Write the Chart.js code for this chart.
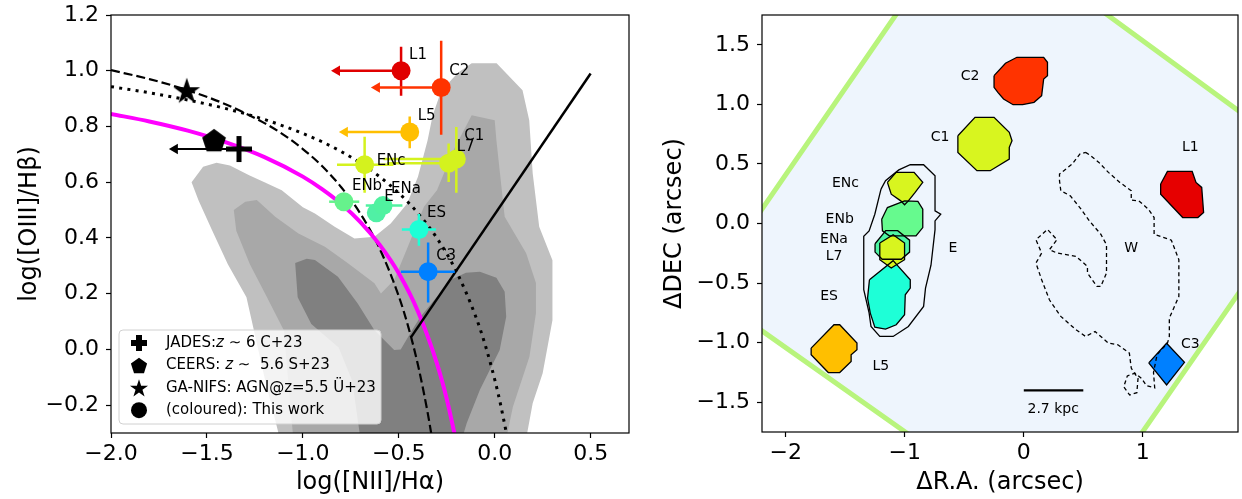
<!DOCTYPE html>
<html lang="en">
<head>
<meta charset="UTF-8">
<title>BPT diagram and region map</title>
<script src="https://cdn.jsdelivr.net/npm/chart.js"></script>
<style>
  html, body { margin: 0; padding: 0; background: #fff; }
  #wrap { position: relative; width: 1242px; height: 499px; }
  canvas { position: absolute; top: 0; }
  #bpt { left: 0; }
  #map { left: 640px; }
</style>
</head>
<body>
<div id="wrap">
  <canvas id="bpt" width="640" height="499"></canvas>
  <canvas id="map" width="602" height="499"></canvas>
</div>
<script>
// ---------- BPT panel: measured regions ----------
const regionNames   = ['L1', 'C2', 'L5', 'ENc', 'C1', 'L7', 'ENb', 'E', 'ENa', 'ES', 'C3'];
const regionColours = ['#e00000', '#ff3300', '#ffbf00', '#d4f21e', '#d4f21e', '#d4f21e',
                       '#66f28c', '#50f0a5', '#50f2a0', '#1effd6', '#0080ff'];
const logNII   = [-0.488, -0.279, -0.443, -0.678, -0.200, -0.240, -0.786, -0.617, -0.582, -0.395, -0.347];
const logOIII  = [ 1.000,  0.940,  0.780,  0.663,  0.683,  0.668,  0.530,  0.490,  0.516,  0.430,  0.279];
const niiLo    = [null, null, null, -0.822, -0.580, -0.560, -0.863, null, -0.672, -0.484, -0.489];
const niiHi    = [null, null, null, -0.528, -0.156, -0.210, -0.706, null, -0.481, -0.306, -0.208];
const niiLimit = [-0.822, -0.614, -0.781, null, null, null, null, null, null, null, null];
const oiiiLo   = [0.910, 0.770, 0.722, 0.562, 0.562, 0.601, null, null, null, 0.372, 0.168];
const oiiiHi   = [1.086, 1.108, 0.836, 0.763, 0.798, 0.739, null, null, null, 0.486, 0.384];

// literature points
const jadesX = [-1.333], jadesY = [0.719], jadesLimit = [-1.667];
const ceersX = [-1.463], ceersY = [0.751];
const ganifsX = [-1.605], ganifsY = [0.930];

// demarcation curves
const kauffmannX = [-2.0, -1.8, -1.6, -1.4, -1.2, -1.1, -1.0, -0.9, -0.8, -0.7, -0.6, -0.5, -0.45, -0.4, -0.35, -0.33];
const kauffmannY = [1.002, 0.970, 0.930, 0.879, 0.812, 0.770, 0.719, 0.658, 0.582, 0.487, 0.362, 0.191, 0.080, -0.056, -0.225, -0.305];
const kewleyX = [-2.0, -1.8, -1.6, -1.4, -1.2, -1.0, -0.9, -0.8, -0.7, -0.6, -0.5, -0.4, -0.3, -0.2, -0.1, -0.05, 0.0, 0.03, 0.06, 0.07];
const kewleyY = [0.943, 0.921, 0.895, 0.864, 0.825, 0.775, 0.745, 0.710, 0.669, 0.620, 0.561, 0.489, 0.398, 0.280, 0.120, 0.017, -0.108, -0.196, -0.298, -0.335];
const highzX = [-2.0, -1.8, -1.6, -1.4, -1.2, -1.0, -0.9, -0.8, -0.7, -0.6, -0.5, -0.4, -0.3, -0.25, -0.2];
const highzY = [0.845, 0.818, 0.785, 0.743, 0.690, 0.620, 0.575, 0.522, 0.457, 0.376, 0.273, 0.136, -0.053, -0.178, -0.332];
const seyfertX = [-0.435, 0.50];
const seyfertY = [0.045, 0.99];

// SDSS density contours (outer, middle, inner)
const contourOuter = [[-1.58, 0.60], [-1.52, 0.655], [-1.45, 0.67], [-1.38, 0.66], [-1.28, 0.625], [-1.20, 0.60],
  [-1.11, 0.571], [-1.00, 0.51], [-0.937, 0.488], [-0.834, 0.44], [-0.731, 0.398], [-0.627, 0.404], [-0.542, 0.452],
  [-0.456, 0.524], [-0.40, 0.62], [-0.35, 0.75], [-0.324, 0.838], [-0.279, 0.928], [-0.19, 0.994], [-0.12, 1.027],
  [0.01, 1.027], [0.145, 0.93], [0.18, 0.822], [0.198, 0.632], [0.232, 0.44], [0.301, 0.32], [0.301, 0.105],
  [0.25, -0.086], [0.198, -0.193], [0.164, -0.32], [-1.12, -0.32], [-1.20, -0.10], [-1.294, 0.187], [-1.391, 0.306],
  [-1.472, 0.426], [-1.543, 0.533]];
const contourMiddle = [[-1.36, 0.50], [-1.30, 0.53], [-1.24, 0.536], [-1.144, 0.476], [-1.023, 0.416], [-0.885, 0.368],
  [-0.765, 0.309], [-0.627, 0.237], [-0.593, 0.201], [-0.524, 0.249], [-0.439, 0.392], [-0.369, 0.512], [-0.301, 0.571],
  [-0.215, 0.715], [-0.12, 0.84], [0.0, 0.822], [0.009, 0.75], [0.052, 0.476], [0.164, 0.345], [0.215, 0.238],
  [0.215, 0.13], [0.181, -0.026], [0.095, -0.206], [0.06, -0.32], [-1.05, -0.32], [-1.098, 0.067], [-1.187, 0.187],
  [-1.276, 0.306], [-1.347, 0.426]];
const contourInner = [[-1.04, 0.31], [-0.98, 0.325], [-0.937, 0.321], [-0.817, 0.261], [-0.714, 0.165], [-0.627, 0.069],
  [-0.524, -0.002], [-0.49, 0.0], [-0.43, 0.07], [-0.387, 0.117], [-0.30, 0.19], [-0.232, 0.249], [-0.15, 0.275],
  [-0.077, 0.279], [0.009, 0.257], [0.052, 0.207], [0.06, 0.117], [0.026, -0.002], [-0.077, -0.145], [-0.146, -0.265],
  [-0.17, -0.32], [-0.70, -0.32], [-0.742, -0.113], [-0.813, 0.007], [-0.956, 0.091], [-1.027, 0.187]];

const bptXTicks = [-2.0, -1.5, -1.0, -0.5, 0.0, 0.5];
const bptXTickLabels = ['\u22122.0', '\u22121.5', '\u22121.0', '\u22120.5', '0.0', '0.5'];
const bptYTicks = [-0.2, 0.0, 0.2, 0.4, 0.6, 0.8, 1.0, 1.2];
const bptYTickLabels = ['\u22120.2', '0.0', '0.2', '0.4', '0.6', '0.8', '1.0', '1.2'];

// ---------- map panel ----------
const fieldOfView = [[-0.48, 2.614], [2.511, 0.431], [0.342, -2.694], [-2.674, -0.567]];
const shapeC2 = [[-0.25, 1.241], [-0.154, 1.345], [-0.058, 1.395], [0.167, 1.395], [0.199, 1.353], [0.199, 1.241],
  [0.167, 1.213], [0.15, 1.073], [0.086, 1.017], [-0.01, 0.997], [-0.09, 0.997], [-0.17, 1.045], [-0.218, 1.101], [-0.25, 1.143]];
const shapeC1 = [[-0.554, 0.737], [-0.41, 0.891], [-0.25, 0.891], [-0.122, 0.765], [-0.099, 0.695], [-0.122, 0.639],
  [-0.122, 0.541], [-0.282, 0.443], [-0.394, 0.443], [-0.554, 0.597]];
const shapeL1 = [[1.15, 0.331], [1.207, 0.437], [1.415, 0.437], [1.447, 0.345], [1.495, 0.303], [1.511, 0.092],
  [1.463, 0.05], [1.335, 0.05], [1.15, 0.246]];
const shapeENc = [[-1.146, 0.345], [-1.073, 0.429], [-0.922, 0.429], [-0.849, 0.345], [-0.913, 0.261], [-0.97, 0.19],
  [-1.002, 0.157], [-1.034, 0.19], [-1.114, 0.246]];
const shapeENb = [[-1.194, 0.036], [-1.146, 0.134], [-1.002, 0.19], [-0.89, 0.185], [-0.849, 0.12], [-0.849, -0.034],
  [-0.906, -0.104], [-1.13, -0.104], [-1.188, -0.062]];
const shapeENa = [[-1.25, -0.17], [-1.16, -0.06], [-1.06, -0.06], [-0.96, -0.14], [-0.96, -0.24], [-1.03, -0.30],
  [-1.19, -0.30], [-1.25, -0.24]];
const shapeL7 = [[-1.21, -0.164], [-1.098, -0.094], [-1.002, -0.164], [-1.002, -0.304], [-1.114, -0.374], [-1.21, -0.304]];
const shapeES = [[-1.297, -0.472], [-1.098, -0.312], [-0.954, -0.472], [-0.954, -0.542], [-0.996, -0.598], [-1.002, -0.766],
  [-1.072, -0.85], [-1.162, -0.887], [-1.252, -0.87], [-1.29, -0.752], [-1.313, -0.626]];
const shapeL5 = [[-1.787, -1.046], [-1.595, -0.85], [-1.547, -0.85], [-1.402, -1.004], [-1.402, -1.06], [-1.451, -1.102],
  [-1.451, -1.158], [-1.547, -1.251], [-1.643, -1.251], [-1.787, -1.102]];
const shapeC3 = [[1.05, -1.17], [1.2, -1.005], [1.35, -1.165], [1.2, -1.355]];
const shapeE = [[-1.2, 0.289], [-1.162, 0.359], [-1.05, 0.45], [-0.954, 0.493], [-0.842, 0.493], [-0.746, 0.401],
  [-0.746, 0.106], [-0.698, 0.078], [-0.746, 0.022], [-0.746, -0.052], [-0.78, -0.35], [-0.826, -0.542], [-0.842, -0.696],
  [-0.97, -0.864], [-1.098, -0.948], [-1.21, -0.948], [-1.284, -0.864], [-1.3, -0.75], [-1.345, -0.556], [-1.345, -0.108],
  [-1.3, -0.062], [-1.252, 0.078]];
const shapeW = [[0.519, 0.597], [0.551, 0.577], [0.631, 0.513], [0.711, 0.429], [0.807, 0.345], [0.903, 0.275],
  [0.903, 0.196], [0.967, 0.19], [1.047, 0.12], [1.095, 0.05], [1.095, -0.09], [1.24, -0.14], [1.303, -0.304],
  [1.303, -0.612], [1.223, -0.794], [1.223, -0.948], [1.207, -1.004], [1.12, -1.1], [1.09, -1.25], [1.1, -1.38],
  [1.03, -1.36], [0.99, -1.3], [0.935, -1.256], [0.87, -1.28], [0.84, -1.37], [0.89, -1.44], [0.95, -1.42], [0.96, -1.3],
  [0.903, -1.214], [0.887, -1.088], [0.791, -1.018], [0.711, -1.004], [0.599, -0.906], [0.519, -0.948], [0.439, -0.892],
  [0.311, -0.78], [0.215, -0.64], [0.15, -0.472], [0.102, -0.332], [0.15, -0.248], [0.102, -0.136], [0.199, -0.05],
  [0.279, -0.136], [0.215, -0.22], [0.279, -0.248], [0.439, -0.276], [0.535, -0.36], [0.535, -0.416], [0.615, -0.528],
  [0.647, -0.528], [0.695, -0.416], [0.695, -0.178], [0.647, -0.09], [0.551, 0.022], [0.471, 0.134], [0.391, 0.232],
  [0.311, 0.275], [0.3, 0.359], [0.3, 0.415], [0.407, 0.499], [0.471, 0.583]];
const mapShapes  = [shapeC2, shapeC1, shapeL1, shapeENc, shapeENb, shapeENa, shapeES, shapeL7, shapeL5, shapeC3];
const mapColours = ['#ff3300', '#d8f51f', '#e60000', '#d8f51f', '#66fa8e', '#4ef5a5', '#1effd7', '#d8f51f', '#ffbf00', '#0080ff'];
const scaleBarX = [0.0, 0.5], scaleBarY = [-1.4, -1.4];

const mapLabelText = ['C2', 'C1', 'L1', 'ENc', 'ENb', 'ENa', 'L7', 'E', 'ES', 'L5', 'W', 'C3', '2.7 kpc'];
const mapLabelX = [-0.451, -0.704, 1.399, -1.499, -1.547, -1.595, -1.595, -0.596, -1.636, -1.201, 0.903, 1.399, 0.247];
const mapLabelY = [1.232, 0.723, 0.639, 0.336, 0.031, -0.136, -0.276, -0.206, -0.612, -1.200, -0.206, -1.018, -1.564];

const mapXTicks = [-2, -1, 0, 1];
const mapXTickLabels = ['\u22122', '\u22121', '0', '1'];
const mapYTicks = [-1.5, -1.0, -0.5, 0.0, 0.5, 1.0, 1.5];
const mapYTickLabels = ['\u22121.5', '\u22121.0', '\u22120.5', '0.0', '0.5', '1.0', '1.5'];

// ---------- helpers ----------
const FONT = "'DejaVu Sans', sans-serif";
const pts = (xs, ys) => xs.map((x, i) => ({x, y: ys[i]}));
const pairs = arr => arr.map(([x, y]) => ({x, y}));
const closed = arr => pairs(arr.concat([arr[0]]));

function markerImage(size, paint) {
  const c = document.createElement('canvas');
  c.width = c.height = size;
  const g = c.getContext('2d');
  g.translate(size / 2, size / 2);
  g.fillStyle = '#000';
  paint(g);
  return c;
}
function starPath(g, R) {
  g.beginPath();
  for (let k = 0; k < 10; k++) {
    const r = k % 2 ? R * 0.382 : R;
    const a = -Math.PI / 2 + k * Math.PI / 5;
    g.lineTo(r * Math.cos(a), r * Math.sin(a) + R * 0.1);
  }
  g.closePath(); g.fill();
}
function pentagonPath(g, R) {
  g.beginPath();
  for (let k = 0; k < 5; k++) {
    const a = -Math.PI / 2 + k * 2 * Math.PI / 5;
    g.lineTo(R * Math.cos(a), R * Math.sin(a) + R * 0.1);
  }
  g.closePath(); g.fill();
}
function plusPath(g, arm, w) {
  g.fillRect(-arm, -w / 2, 2 * arm, w);
  g.fillRect(-w / 2, -arm, w, 2 * arm);
}
const starImg = markerImage(32, g => starPath(g, 14));
const pentagonImg = markerImage(30, g => pentagonPath(g, 12.5));
const plusImg = markerImage(30, g => plusPath(g, 13, 5));

function axis(min, max, ticks, labels, title, size, titlePad, tickPad) {
  return {
    type: 'linear', min, max,
    afterBuildTicks: s => { s.ticks = ticks.map(v => ({value: v})); },
    afterFit: s => {
      if (s.isHorizontal()) s.height = size; else s.width = size;
      // the plot box is placed by layout.padding alone
      s.paddingTop = s.paddingBottom = s.paddingLeft = s.paddingRight = 0;
    },
    ticks: {
      callback: v => labels[ticks.indexOf(v)],
      font: {family: FONT, size: 22}, color: '#000', padding: tickPad,
      autoSkip: false, maxRotation: 0
    },
    grid: {drawOnChartArea: false, drawTicks: true, tickLength: 5, tickWidth: 1.2, tickColor: '#000'},
    border: {display: false},
    title: {display: true, text: title, font: {family: FONT, size: 24}, color: '#000', padding: titlePad}
  };
}

// fills closed shapes (datasets carrying areaColor) underneath all datasets
const areaFill = {
  id: 'areaFill',
  beforeDatasetsDraw(chart) {
    const {ctx, chartArea: a} = chart;
    ctx.save();
    ctx.beginPath();
    ctx.rect(a.left, a.top, a.right - a.left, a.bottom - a.top);
    ctx.clip();
    chart.data.datasets.forEach((ds, i) => {
      if (!ds.areaColor) return;
      const el = chart.getDatasetMeta(i).data;
      ctx.beginPath();
      el.forEach((p, j) => j ? ctx.lineTo(p.x, p.y) : ctx.moveTo(p.x, p.y));
      ctx.closePath();
      ctx.fillStyle = ds.areaColor;
      ctx.fill();
    });
    ctx.restore();
  }
};

const frame = {
  id: 'frame',
  afterDatasetsDraw(chart) {
    const {ctx, chartArea: a} = chart;
    ctx.save();
    ctx.strokeStyle = '#000';
    ctx.lineWidth = 1.2;
    ctx.strokeRect(a.left, a.top, a.right - a.left, a.bottom - a.top);
    ctx.restore();
  }
};

function stackOrder(sets) {
  sets.forEach((d, i) => { d.order = sets.length - i; });
  return sets;
}

// ---------- BPT chart ----------
const bptSets = [];
[[contourOuter, '#c0c0c0'], [contourMiddle, '#a8a8a8'], [contourInner, '#808080']].forEach(([shape, c]) => {
  bptSets.push({data: pairs(shape), areaColor: c, showLine: false, pointRadius: 0});
});
bptSets.push({data: pts(kauffmannX, kauffmannY), showLine: true, borderColor: '#000', borderWidth: 2.2,
  borderDash: [9, 4], pointRadius: 0, cubicInterpolationMode: 'monotone'});
bptSets.push({data: pts(kewleyX, kewleyY), showLine: true, borderColor: '#000', borderWidth: 3,
  borderDash: [3, 5.3], pointRadius: 0, cubicInterpolationMode: 'monotone'});
bptSets.push({data: pts(highzX, highzY), showLine: true, borderColor: '#ff00ff', borderWidth: 4,
  pointRadius: 0, cubicInterpolationMode: 'monotone'});
bptSets.push({data: pts(seyfertX, seyfertY), showLine: true, borderColor: '#000', borderWidth: 2.5, pointRadius: 0});

// JADES upper limit arrow
bptSets.push({data: [{x: jadesX[0], y: jadesY[0]}, {x: jadesLimit[0], y: jadesY[0]}], showLine: true,
  borderColor: '#000', borderWidth: 2, pointRadius: 0});
bptSets.push({data: [{x: jadesLimit[0], y: jadesY[0]}], pointStyle: 'triangle', pointRotation: -90,
  pointRadius: 6, pointBackgroundColor: '#000', pointBorderWidth: 0});

regionNames.forEach((name, i) => {
  const seg = [];
  const c = regionColours[i];
  if (niiLo[i] !== null) seg.push({x: niiLo[i], y: logOIII[i]}, {x: niiHi[i], y: logOIII[i]}, {x: null, y: null});
  if (oiiiLo[i] !== null) seg.push({x: logNII[i], y: oiiiLo[i]}, {x: logNII[i], y: oiiiHi[i]}, {x: null, y: null});
  if (niiLimit[i] !== null) seg.push({x: logNII[i], y: logOIII[i]}, {x: niiLimit[i], y: logOIII[i]});
  bptSets.push({data: seg, showLine: true, spanGaps: false, borderColor: c, borderWidth: 2.5, pointRadius: 0});
  if (niiLimit[i] !== null) {
    bptSets.push({data: [{x: niiLimit[i], y: logOIII[i]}], pointStyle: 'triangle', pointRotation: -90,
      pointRadius: 6, pointBackgroundColor: c, pointBorderWidth: 0});
  }
});

bptSets.push({data: pts(ganifsX, ganifsY), pointStyle: starImg, pointRadius: 10});
bptSets.push({data: pts(ceersX, ceersY), pointStyle: pentagonImg, pointRadius: 10});
bptSets.push({data: pts(jadesX, jadesY), pointStyle: plusImg, pointRadius: 10});
bptSets.push({data: pts(logNII, logOIII), pointRadius: 9.5, pointBackgroundColor: regionColours, pointBorderWidth: 0});

const labelOffset = {ENc: [12, -4], C1: [8, -23]};
const bptLabels = {
  id: 'bptLabels',
  afterDatasetsDraw(chart) {
    const {ctx, scales: {x, y}} = chart;
    ctx.save();
    ctx.font = `15px ${FONT}`;
    ctx.fillStyle = '#000';
    ctx.textAlign = 'left';
    ctx.textBaseline = 'middle';
    regionNames.forEach((n, i) => {
      const off = labelOffset[n] || [8, -16];
      ctx.fillText(n, x.getPixelForValue(logNII[i]) + off[0], y.getPixelForValue(logOIII[i]) + off[1]);
    });
    ctx.restore();
  }
};

const legendRows = [
  {mark: 'plus', parts: [['JADES:', false], ['z', true], [' \u223C 6 C+23', false]]},
  {mark: 'pentagon', parts: [['CEERS: ', false], ['z', true], [' \u223C  5.6 S+23', false]]},
  {mark: 'star', parts: [['GA-NIFS: AGN@z=5.5 \u00DC+23', false]]},
  {mark: 'circle', parts: [['(coloured): This work', false]]}
];
const bptLegend = {
  id: 'bptLegend',
  afterDraw(chart) {
    const ctx = chart.ctx;
    const bx = 119, by = 330, bw = 262, bh = 94;
    ctx.save();
    ctx.beginPath();
    ctx.roundRect(bx, by, bw, bh, 4);
    ctx.fillStyle = 'rgba(255,255,255,0.8)';
    ctx.fill();
    ctx.strokeStyle = '#d0d0d0';
    ctx.lineWidth = 1;
    ctx.stroke();
    ctx.textBaseline = 'middle';
    ctx.fillStyle = '#000';
    legendRows.forEach((row, k) => {
      const cy = 343 + k * 22.4;
      ctx.save();
      ctx.translate(139, cy);
      if (row.mark === 'plus') plusPath(ctx, 8, 6);
      if (row.mark === 'pentagon') pentagonPath(ctx, 8.5);
      if (row.mark === 'star') starPath(ctx, 9.5);
      if (row.mark === 'circle') { ctx.beginPath(); ctx.arc(0, 0, 8, 0, 2 * Math.PI); ctx.fill(); }
      ctx.restore();
      let tx = 166;
      row.parts.forEach(([t, it]) => {
        ctx.font = `${it ? 'italic ' : ''}15px ${FONT}`;
        ctx.fillText(t, tx, cy);
        tx += ctx.measureText(t).width;
      });
    });
    ctx.restore();
  }
};

new Chart(document.getElementById('bpt'), {
  type: 'scatter',
  data: {datasets: stackOrder(bptSets)},
  options: {
    responsive: false, animation: false, devicePixelRatio: 1,
    layout: {padding: {left: 0, top: 15, right: 6, bottom: 0}},
    plugins: {legend: {display: false}, tooltip: {enabled: false}},
    scales: {
      x: axis(-2.0, 0.7, bptXTicks, bptXTickLabels, 'log([NII]/H\u03B1)', 66, {top: 0, bottom: 2}, 3),
      y: axis(-0.3, 1.2, bptYTicks, bptYTickLabels, 'log([OIII]/H\u03B2)', 111, {top: 15, bottom: 0}, 7)
    }
  },
  plugins: [areaFill, bptLabels, frame, bptLegend]
});

// ---------- map chart ----------
const mapSets = [];
mapSets.push({data: pairs(fieldOfView), areaColor: '#eef5fd', showLine: false, pointRadius: 0});
mapShapes.forEach((s, i) => mapSets.push({data: pairs(s), areaColor: mapColours[i], showLine: false, pointRadius: 0}));
mapSets.push({data: closed(fieldOfView), showLine: true, borderColor: '#b8f47c', borderWidth: 5, pointRadius: 0});
mapShapes.forEach(s => mapSets.push({data: closed(s), showLine: true, borderColor: '#000', borderWidth: 1.3, pointRadius: 0}));
mapSets.push({data: closed(shapeE), showLine: true, borderColor: '#000', borderWidth: 1.3, pointRadius: 0});
mapSets.push({data: closed(shapeW), showLine: true, borderColor: '#000', borderWidth: 1.3, borderDash: [4, 3], pointRadius: 0});
mapSets.push({data: pts(scaleBarX, scaleBarY), showLine: true, borderColor: '#000', borderWidth: 2.2, pointRadius: 0});

const mapLabels = {
  id: 'mapLabels',
  afterDatasetsDraw(chart) {
    const {ctx, scales: {x, y}} = chart;
    ctx.save();
    ctx.font = `14px ${FONT}`;
    ctx.fillStyle = '#000';
    ctx.textAlign = 'center';
    ctx.textBaseline = 'middle';
    mapLabelText.forEach((t, i) => ctx.fillText(t, x.getPixelForValue(mapLabelX[i]), y.getPixelForValue(mapLabelY[i])));
    ctx.restore();
  }
};

new Chart(document.getElementById('map'), {
  type: 'scatter',
  data: {datasets: stackOrder(mapSets)},
  options: {
    responsive: false, animation: false, devicePixelRatio: 1,
    layout: {padding: {left: 0, top: 15, right: 4, bottom: 0}},
    plugins: {legend: {display: false}, tooltip: {enabled: false}},
    scales: {
      x: axis(-2.2, 1.8, mapXTicks, mapXTickLabels, '\u0394R.A. (arcsec)', 67, {top: 0, bottom: 2}, 3),
      y: axis(-1.75, 1.75, mapYTicks, mapYTickLabels, '\u0394DEC (arcsec)', 122, {top: 20, bottom: 0}, 7)
    }
  },
  plugins: [areaFill, mapLabels, frame]
});
</script>
</body>
</html>
